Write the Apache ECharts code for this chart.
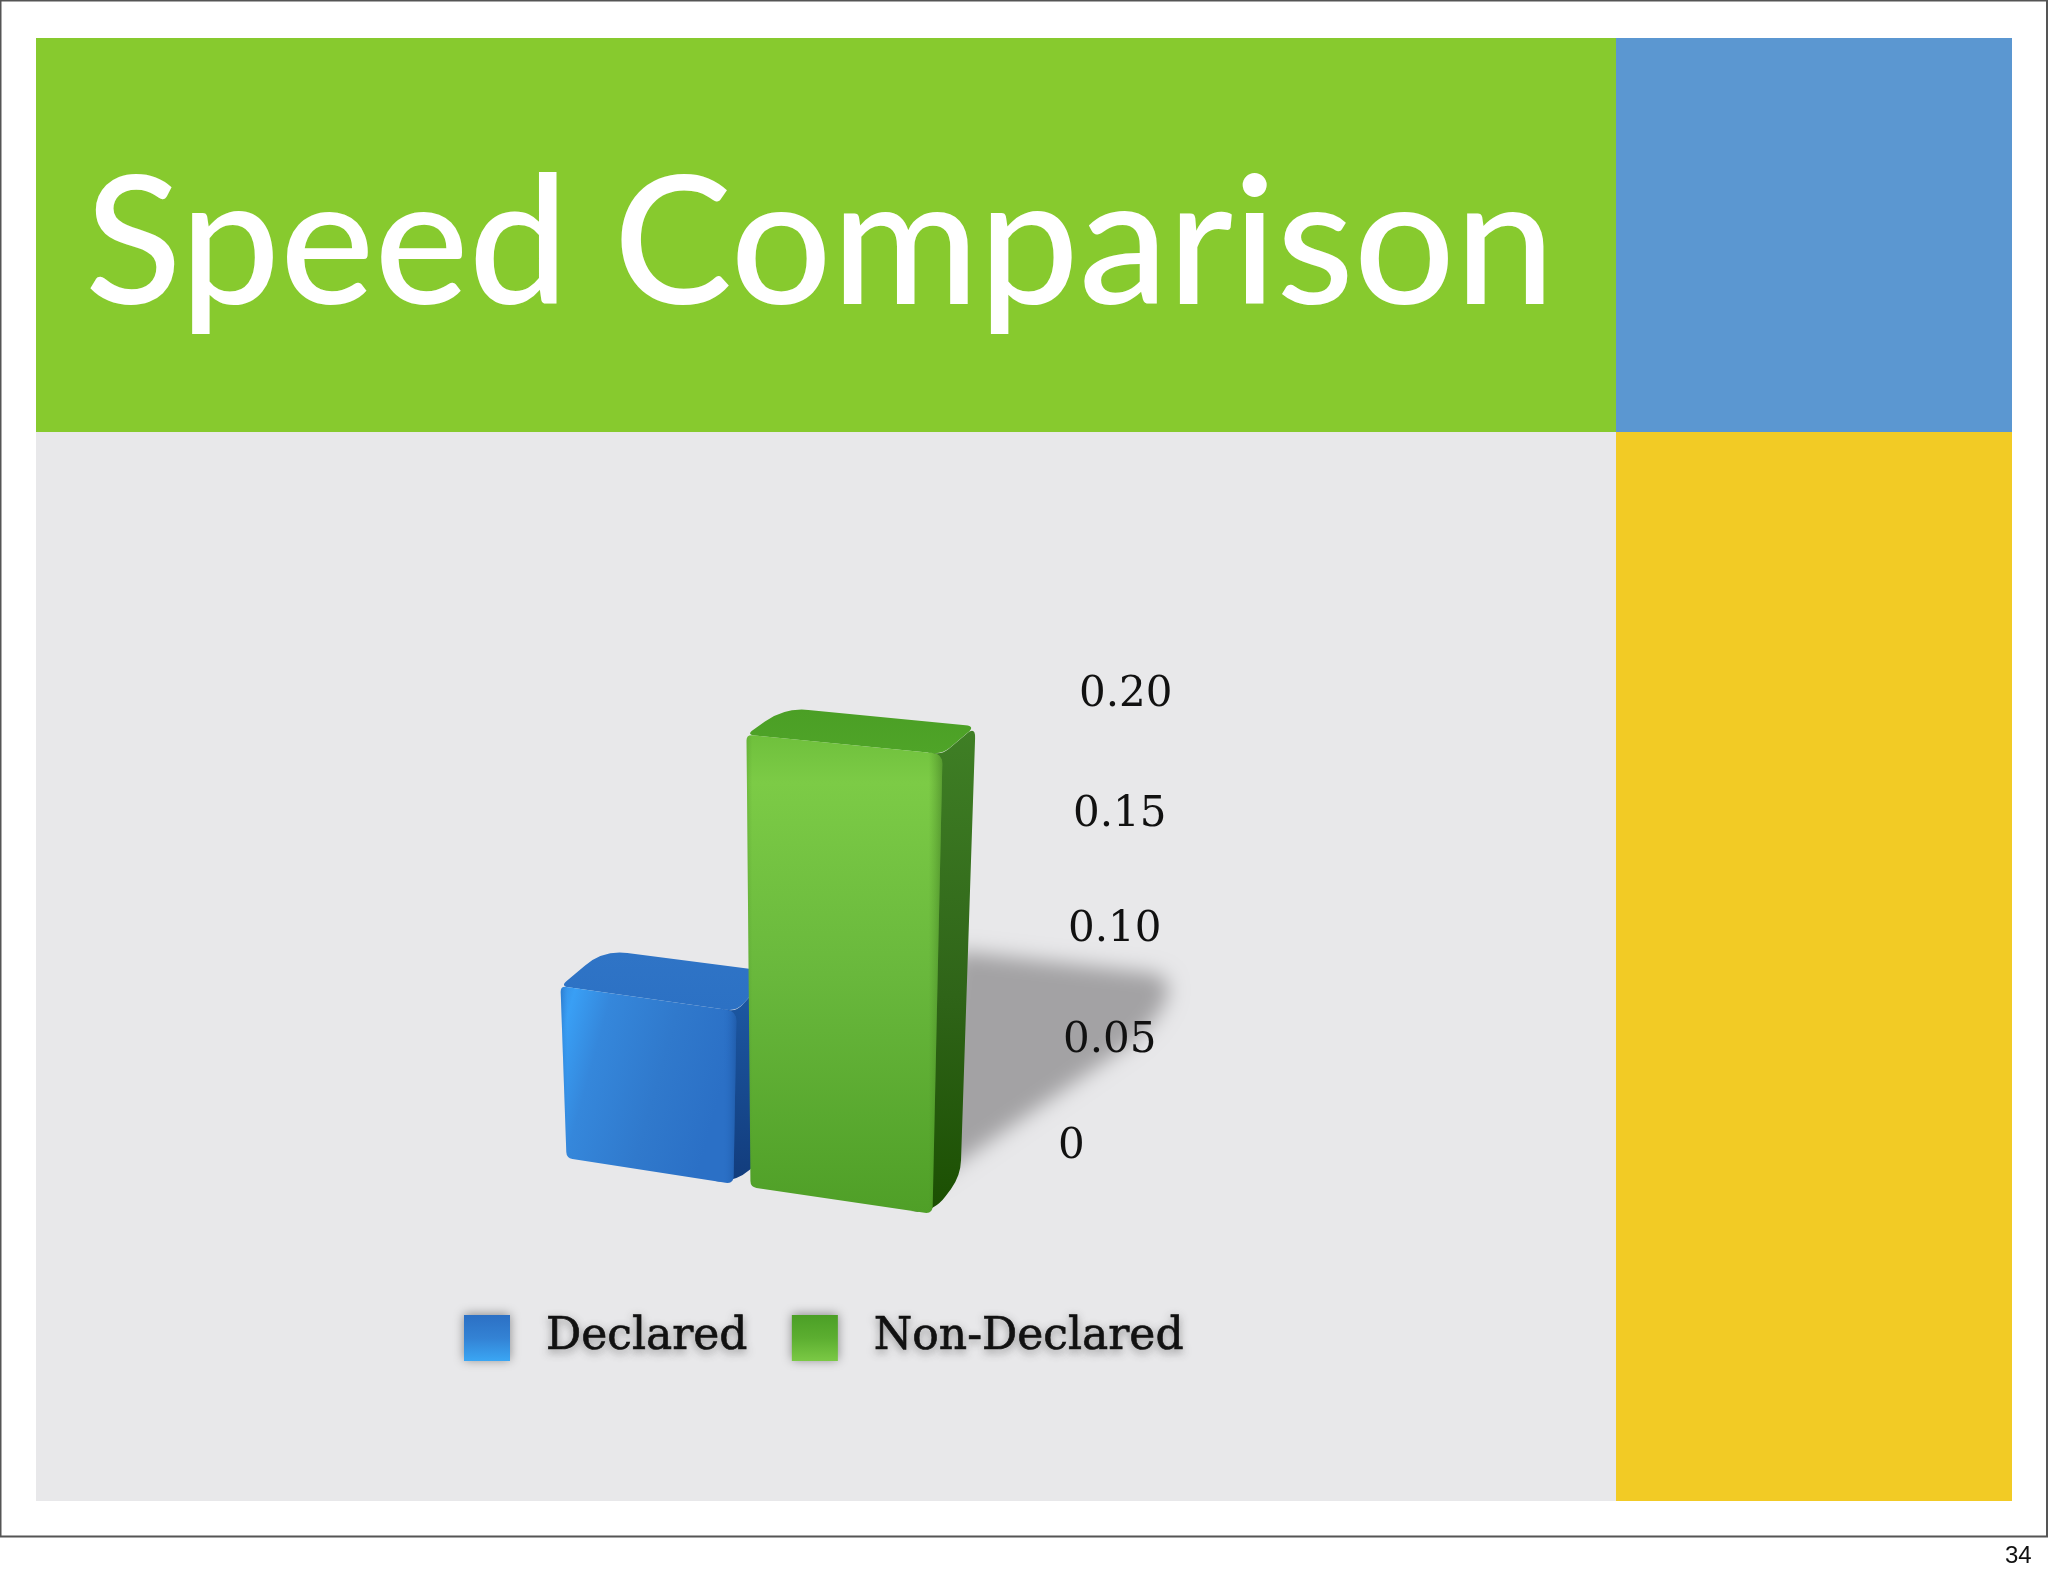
<!DOCTYPE html>
<html><head><meta charset="utf-8">
<script src="https://cdn.jsdelivr.net/npm/echarts@6/dist/echarts.min.js"></script>
<style>html,body{margin:0;padding:0;background:#fff}#c{width:2048px;height:1576px}</style>
</head><body><div id="c"></div>
<script>
var titleText = 'Speed Comparison';
var pageNumber = '34';
var categories = ['Declared', 'Non-Declared'];
var declaredValues = [0.07];
var nonDeclaredValues = [0.185];
var tickLabels = ['0', '0.05', '0.10', '0.15', '0.20'];
var axisMin = 0, axisMax = 0.2, axisStep = 0.05;

// perspective shape of each block, relative to its category position on the axes
var shapes = {
  'Declared': {
    fl:[-88,15], fr:[79,41], sr:[118,7], tl:[-6,1.087], tr:[3,1.093], br:[0,1.127], bl:[43,-36], shadow:false,
    front:{type:'linear',x:0,y:0,x2:1,y2:0.25,colorStops:[{offset:0,color:'#358fe4'},{offset:0.08,color:'#399ff5'},{offset:0.28,color:'#3587db'},{offset:0.65,color:'#3079cc'},{offset:1,color:'#2b70c6'}]},
    edge:{type:'linear',x:0,y:0,x2:1,y2:0,colorStops:[{offset:0,color:'rgba(20,70,140,0.25)'},{offset:0.04,color:'rgba(40,110,200,0)'},{offset:0.92,color:'rgba(40,110,200,0)'},{offset:1,color:'rgba(20,70,140,0.45)'}]},
    top:{type:'linear',x:0,y:0,x2:0,y2:1,colorStops:[{offset:0,color:'#2f74c6'},{offset:1,color:'#2c71c4'}]},
    side:{type:'linear',x:0,y:0,x2:0,y2:1,colorStops:[{offset:0,color:'#1d5aa6'},{offset:1,color:'#123c7c'}]}
  },
  'Non-Declared': {
    fl:[-109,44], fr:[73,71], sr:[101,33], tl:[-4,1.082], tr:[10,1.100], br:[15,1.076], bl:[38,-27], shadow:true,
    front:{type:'linear',x:0,y:0,x2:0,y2:1,colorStops:[{offset:0,color:'#6fc03c'},{offset:0.1,color:'#7ccb46'},{offset:0.5,color:'#69b83c'},{offset:1,color:'#4f9f27'}]},
    edge:{type:'linear',x:0,y:0,x2:1,y2:0,colorStops:[{offset:0,color:'rgba(60,120,30,0.2)'},{offset:0.03,color:'rgba(60,120,30,0)'},{offset:0.93,color:'rgba(60,120,30,0)'},{offset:1,color:'rgba(40,90,20,0.4)'}]},
    top:{type:'linear',x:0,y:0,x2:0,y2:1,colorStops:[{offset:0,color:'#4b9f25'},{offset:1,color:'#4fa428'}]},
    side:{type:'linear',x:0,y:0,x2:0,y2:1,colorStops:[{offset:0,color:'#3f7f25'},{offset:0.55,color:'#2f6418'},{offset:1,color:'#1b4f02'}]}
  }
};
var OFFSCREEN = 4000;

function rounded(pts, r, dx){
  var n = pts.length, d = '', o = dx || 0;
  for (var i = 0; i < n; i++){
    var p = pts[i], a = pts[(i+n-1)%n], b = pts[(i+1)%n], rr = r[i];
    var la = Math.hypot(a[0]-p[0],a[1]-p[1]), lb = Math.hypot(b[0]-p[0],b[1]-p[1]);
    var s = [p[0]+(a[0]-p[0])*rr/la, p[1]+(a[1]-p[1])*rr/la];
    var e = [p[0]+(b[0]-p[0])*rr/lb, p[1]+(b[1]-p[1])*rr/lb];
    d += (i===0?'M':'L')+(s[0]+o)+' '+s[1]+' Q'+(p[0]+o)+' '+p[1]+' '+(e[0]+o)+' '+e[1]+' ';
  }
  return d+'Z';
}
function renderBlock(params, api){
  var name = params.seriesName, g = shapes[name];
  var base = api.coord([api.value(0), 0]);
  var topPt = api.coord([api.value(0), api.value(1)]);
  var H = base[1]-topPt[1], cx = base[0], y0 = base[1];
  var FLB=[cx+g.fl[0],y0+g.fl[1]], FRB=[cx+g.fr[0],y0+g.fr[1]], SRB=[cx+g.sr[0],y0+g.sr[1]];
  var FLT=[FLB[0]+g.tl[0],FLB[1]-H*g.tl[1]], FRT=[FRB[0]+g.tr[0],FRB[1]-H*g.tr[1]];
  var BRT=[SRB[0]+g.br[0],SRB[1]-H*g.br[1]];
  var BLT=[FLT[0]+g.bl[0],FLT[1]+g.bl[1]];
  var kids = [];
  if (g.shadow){
    kids.push({type:'path',silent:true,shape:{pathData:rounded([
      [cx+70,y0+40],
      [cx+95,y0-H*0.46],
      [cx+H*0.76,y0-H*0.40],
      [cx+H*0.70,y0-H*0.275]
    ],[2,10,30,30],OFFSCREEN)},style:{fill:'#a5a4a6',shadowBlur:20,shadowColor:'#a3a2a4',shadowOffsetX:-OFFSCREEN}});
  }
  kids.push({type:'path',shape:{pathData:rounded([[FRT[0]-14,FRT[1]-2],FRT,BRT,SRB,FRB,[FRB[0]-14,FRB[1]-2]],[0,8,12,16,22,0])},style:{fill:g.side}});
  kids.push({type:'path',shape:{pathData:rounded([FLT,BLT,BRT,FRT],[8,24,10,10])},style:{fill:g.top}});
  var frontPath = rounded([FLT,FRT,FRB,FLB],[6,10,8,6]);
  kids.push({type:'path',shape:{pathData:frontPath},style:{fill:g.front}});
  kids.push({type:'path',silent:true,shape:{pathData:frontPath},style:{fill:g.edge}});
  return {type:'group',children:kids};
}

var legendGrad = {
  'Declared':{type:'linear',x:0,y:0,x2:0,y2:1,colorStops:[{offset:0,color:'#2c70c4'},{offset:0.5,color:'#3382d4'},{offset:1,color:'#3aa6f4'}]},
  'Non-Declared':{type:'linear',x:0,y:0,x2:0,y2:1,colorStops:[{offset:0,color:'#4b9f26'},{offset:0.5,color:'#5cae30'},{offset:1,color:'#7bc945'}]}
};
// labels sit on a receding wall: shift per tick
var labelShift = [[8,0],[22,5],[26,10],[22,15],[8,21]];
var richLabels = {};
tickLabels.forEach(function(t,i){
  richLabels['t'+i] = {fontFamily:'DejaVu Serif',fontSize:42,color:'#111',align:'left',
    padding:[labelShift[i][0],0,0,labelShift[i][1]]};
});

var option = {
  animation:false,
  backgroundColor:'#ffffff',
  graphic:[
    {type:'rect',z:-10,shape:{x:0.5,y:0.5,width:2046.5,height:1536},style:{fill:'#ffffff',stroke:'#555555',lineWidth:2}},
    {type:'rect',z:-9,shape:{x:36,y:38,width:1580,height:394},style:{fill:'#87ca2e'}},
    {type:'rect',z:-9,shape:{x:1616,y:38,width:396,height:394},style:{fill:'#5b97d1'}},
    {type:'rect',z:-9,shape:{x:36,y:432,width:1580,height:1069},style:{fill:'#e8e8ea'}},
    {type:'rect',z:-9,shape:{x:1616,y:432,width:396,height:1069},style:{fill:'#f2cb25'}}
  ],
  title:[
    {text:titleText,left:85,top:142,padding:0,textStyle:{fontFamily:'Lato',fontWeight:500,fontSize:178,lineHeight:210,color:'#ffffff'}},
    {text:pageNumber,left:2005,top:1544,padding:0,textStyle:{fontFamily:'Liberation Sans',fontWeight:'normal',fontSize:24,color:'#111'}}
  ],
  grid:{left:552,top:691,width:410,height:452,containLabel:false},
  xAxis:{type:'category',data:categories,show:false},
  yAxis:{type:'value',position:'right',min:axisMin,max:axisMax,interval:axisStep,z:10,
    axisLine:{show:false},axisTick:{show:false},splitLine:{show:false},
    axisLabel:{margin:96,align:'left',verticalAlign:'middle',
      formatter:function(v){var i=Math.round(v/axisStep);return '{t'+i+'|'+tickLabels[i]+'}';},
      rich:richLabels}},
  legend:{
    left:464,top:1315,padding:0,orient:'horizontal',itemWidth:46,itemHeight:46,itemGap:44,
    data:categories.map(function(n){return {name:n,icon:'rect',
      itemStyle:{color:legendGrad[n],shadowBlur:10,shadowColor:'rgba(60,60,60,0.55)',shadowOffsetY:-1}};}),
    textStyle:{fontFamily:'DejaVu Serif',fontSize:44,color:'#111',padding:[6,0,0,31],
      textBorderColor:'#111',textBorderWidth:0.7,
      textShadowBlur:8,textShadowColor:'rgba(90,90,90,0.55)',textShadowOffsetY:3}
  },
  series:[
    {name:categories[0],type:'custom',renderItem:renderBlock,encode:{x:0,y:1},z:2,
     data:declaredValues.map(function(v){return [categories[0],v];})},
    {name:categories[1],type:'custom',renderItem:renderBlock,encode:{x:0,y:1},z:3,
     data:nonDeclaredValues.map(function(v){return [categories[1],v];})}
  ]
};
var chart = echarts.init(document.getElementById('c'),null,{renderer:'canvas',width:2048,height:1576});
chart.setOption(option);
</script></body></html>
